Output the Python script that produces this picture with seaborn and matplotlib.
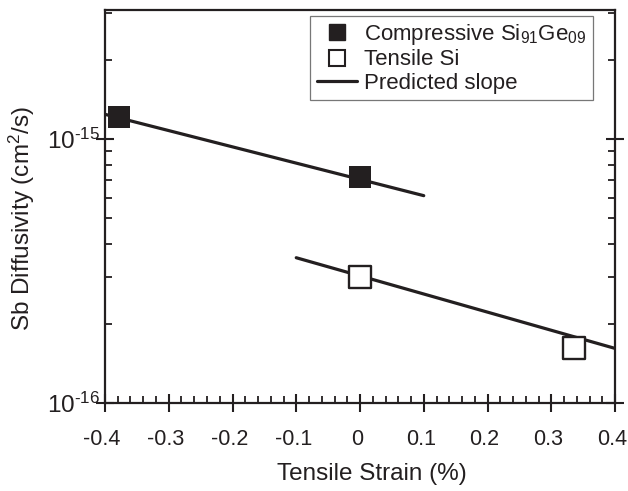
import numpy as np
import pandas as pd
import seaborn as sns
import matplotlib.pyplot as plt
import matplotlib.transforms as mtransforms
from matplotlib.ticker import MultipleLocator, LogLocator, NullFormatter
from matplotlib.lines import Line2D

# dados
comp_strain = [-0.378, 0.0]
comp_D = [1.21e-15, 7.15e-16]
tens_strain = [0.0, 0.335]
tens_D = [3.0e-16, 1.61e-16]

comp_fit_x = [-0.4, 0.1]
comp_fit_y = [1.24e-15, 6.1e-16]
tens_fit_x = [-0.1, 0.4]
tens_fit_y = [3.55e-16, 1.61e-16]

legend_labels = ['Compressive Si$_{91}$Ge$_{09}$', 'Tensile Si', 'Predicted slope']
xtick_vals = [-0.4, -0.3, -0.2, -0.1, 0.0, 0.1, 0.2, 0.3, 0.4]
xtick_labels = ['-0.4', '-0.3', '-0.2', '-0.1', '0', '0.1', '0.2', '0.3', '0.4']
ytick_vals = [1e-16, 1e-15]
ytick_labels = ['10$^{\u201016}$', '10$^{\u201015}$']

sns.set_style('ticks')
plt.rcParams['font.family'] = ['Liberation Sans', 'DejaVu Sans']
plt.rcParams['mathtext.fontset'] = 'custom'
plt.rcParams['mathtext.rm'] = 'Liberation Sans'
plt.rcParams['mathtext.it'] = 'Liberation Sans:italic'
plt.rcParams['mathtext.default'] = 'regular'

ink = '#231f20'

fig = plt.figure(figsize=(6.28, 4.91), dpi=100)
ax = fig.add_axes([105 / 628, 1 - 403 / 491, 510 / 628, 393 / 491])

# linhas de inclinacao prevista
sns.lineplot(x=comp_fit_x, y=comp_fit_y, ax=ax, color=ink, linewidth=2.3, zorder=2)
sns.lineplot(x=tens_fit_x, y=tens_fit_y, ax=ax, color=ink, linewidth=2.3, zorder=2)

# pontos
sns.scatterplot(x=comp_strain, y=comp_D, ax=ax, marker='s', s=265, color=ink,
                edgecolor=ink, linewidth=0, zorder=3)
sns.scatterplot(x=tens_strain, y=tens_D, ax=ax, marker='s', s=245, facecolor='white',
                edgecolor=ink, linewidth=1.7, zorder=3)

ax.set_yscale('log')
ax.set_xlim(-0.4, 0.4)
ax.set_ylim(1e-16, 3.08e-15)

ax.xaxis.set_minor_locator(MultipleLocator(0.02))
ax.set_xticks(xtick_vals)
ax.set_xticklabels(xtick_labels)

ax.set_yticks(ytick_vals)
ax.set_yticklabels(ytick_labels)
ax.yaxis.set_minor_locator(LogLocator(base=10, subs=np.arange(2, 10), numticks=10))
ax.yaxis.set_minor_formatter(NullFormatter())

ax.tick_params(axis='both', which='major', direction='inout', length=13, width=1.5,
               labelsize=15.5, colors=ink, right=True, top=False)
ax.tick_params(axis='both', which='minor', direction='in', length=5, width=1.3,
               right=True, top=False, colors=ink)
ax.tick_params(axis='x', which='major', pad=12)
ax.tick_params(axis='y', which='major', pad=-3, labelsize=17.5)

# rotulos do eixo x um pouco para a esquerda
shift = mtransforms.ScaledTranslation(-3 / 100, 0, fig.dpi_scale_trans)
for lab in ax.get_xticklabels():
    lab.set_transform(lab.get_transform() + shift)

for sp in ax.spines.values():
    sp.set_linewidth(1.6)
    sp.set_color(ink)
    sp.set_visible(True)

ax.set_xlabel('Tensile Strain (%)', fontsize=17.5, color=ink)
ax.set_ylabel('Sb Diffusivity (cm$^2$/s)', fontsize=17.5, color=ink)
ax.xaxis.set_label_coords(0.524, -0.152)
ax.yaxis.set_label_coords(-0.133, 0.47)

handles = [
    Line2D([], [], marker='s', linestyle='none', markersize=12, color=ink),
    Line2D([], [], marker='s', linestyle='none', markersize=11.5, markerfacecolor='white',
           markeredgecolor=ink, markeredgewidth=1.5),
    Line2D([], [], color=ink, linewidth=2.3),
]
leg = ax.legend(handles, legend_labels, loc='upper right',
                bbox_to_anchor=((593 - 105) / 510, 1 - 6 / 393), borderaxespad=0,
                fontsize=16, frameon=True, fancybox=False, handlelength=1.8,
                handletextpad=0.35, labelspacing=0.1, borderpad=0.28)
leg.get_frame().set_edgecolor('#555555')
leg.get_frame().set_linewidth(0.9)
for t in leg.get_texts():
    t.set_color(ink)

fig.savefig('out.png', dpi=100)
